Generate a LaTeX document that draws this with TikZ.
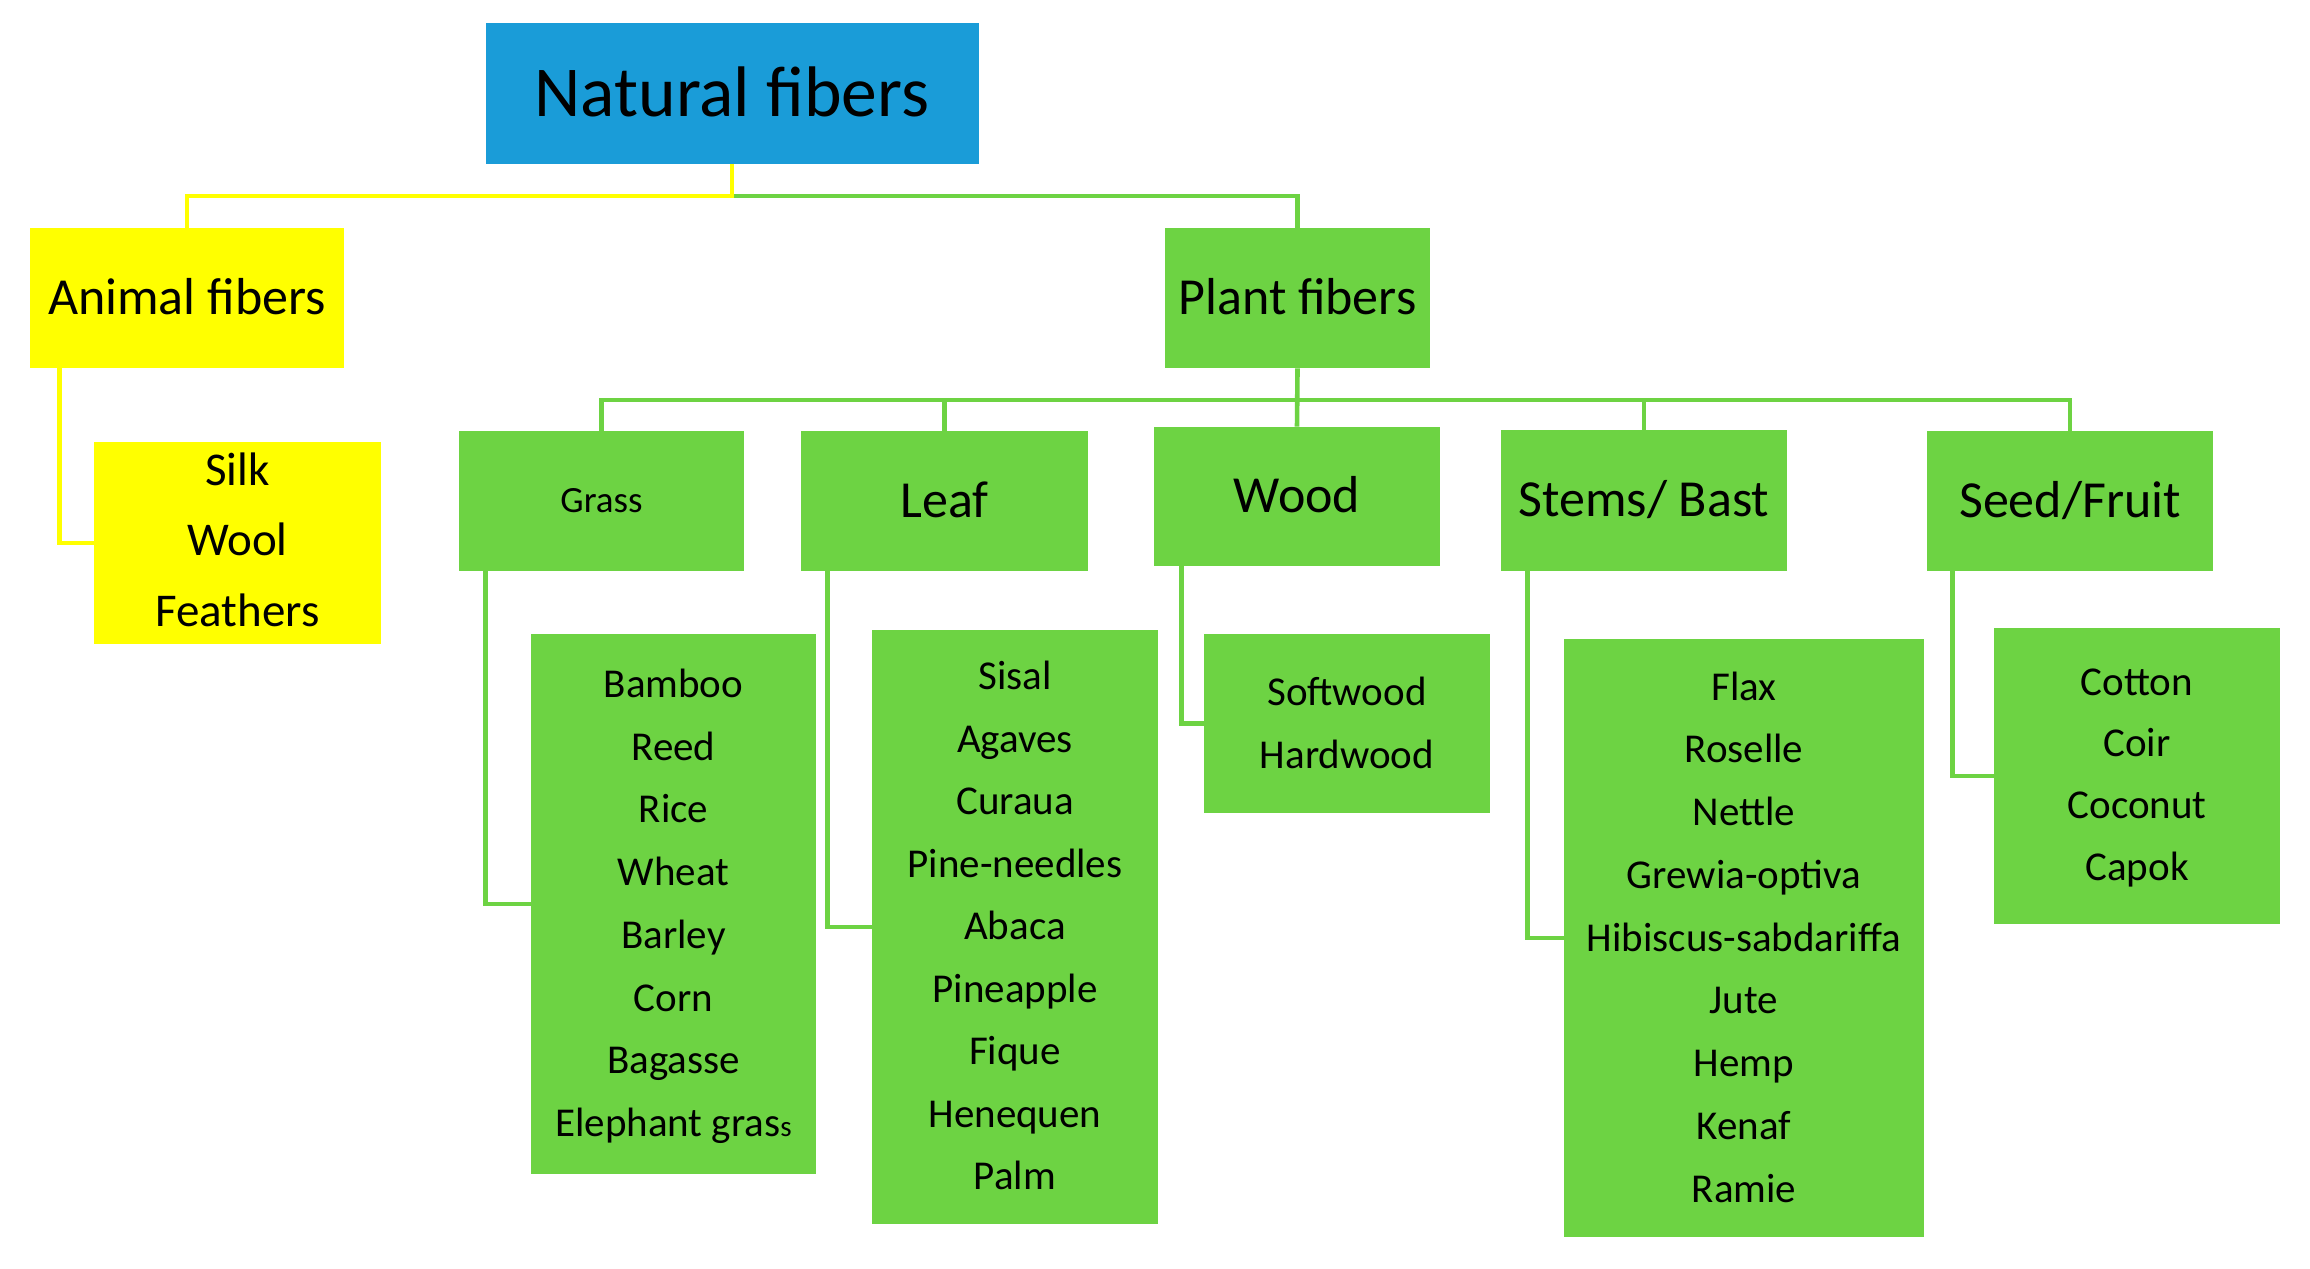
\documentclass[tikz,border=0pt]{standalone}
\usepackage{fontspec}
\setmainfont{Carlito}
\definecolor{natblue}{HTML}{1A9CD8}
\definecolor{grn}{HTML}{6DD343}
\definecolor{ylw}{HTML}{FFFF00}
\begin{document}
\begin{tikzpicture}[x=0.5pt,y=-0.5pt,
  box/.style={rectangle, inner sep=0pt, draw=none, text=black},
  head/.style={box, font=\fontsize{26}{30}\selectfont, text height=16.4pt, text depth=0pt},
  item/.style={anchor=base, inner sep=0pt, text=black, font=\fontsize{20.5}{24}\selectfont},
  aitem/.style={item, font=\fontsize{23.5}{28}\selectfont},
  gline/.style={draw=grn, line width=2.3pt},
  yline/.style={draw=ylw, line width=2.3pt}]
\useasboundingbox (0,0) rectangle (2310,1268);
\fill[white] (0,0) rectangle (2310,1268);

% top level
\node[box, fill=natblue, minimum width=246.5pt, minimum height=70.5pt,
      font=\fontsize{35.8}{41}\selectfont, text height=22.6pt, text depth=0pt] (nat) at (732,93.5) {Natural fibers};
\node[head, fill=ylw, minimum width=157pt, minimum height=70pt] (animal) at (187,298) {Animal fibers};
\node[head, fill=grn, minimum width=132.5pt, minimum height=70pt] (plant) at (1297.5,298) {Plant fibers};

% animal children
\node[box, fill=ylw, minimum width=143.5pt, minimum height=101pt] (ach) at (237.5,543) {};

% plant categories
\node[box, fill=grn, minimum width=142.5pt, minimum height=70pt,
      font=\fontsize{18.5}{22}\selectfont, text height=11.7pt, text depth=0pt] (grass) at (601.5,501) {Grass};
\node[head, fill=grn, minimum width=143.5pt, minimum height=70pt] (leaf) at (944.5,501) {Leaf};
\node[head, fill=grn, minimum width=143pt, minimum height=69.5pt] (wood) at (1297,496.5) {Wood};
\node[head, fill=grn, minimum width=143pt, minimum height=70.5pt] (stems) at (1644,500.5) {Stems/ Bast};
\node[head, fill=grn, minimum width=143pt, minimum height=70pt] (seed) at (2070,501) {Seed/Fruit};

% children boxes
\node[box, fill=grn, minimum width=142.5pt, minimum height=270pt] (gch) at (673.5,904) {};
\node[box, fill=grn, minimum width=143pt, minimum height=297pt] (lch) at (1015,927) {};
\node[box, fill=grn, minimum width=143pt, minimum height=89.5pt] (wch) at (1347,723.5) {};
\node[box, fill=grn, minimum width=180pt, minimum height=299pt] (sch) at (1744,938) {};
\node[box, fill=grn, minimum width=143pt, minimum height=148pt] (fch) at (2137,776) {};

% item texts
\foreach \t [count=\i from 0] in {Silk,Wool,Feathers}
  \node[aitem] (a\i) at (237.5,485+70.8*\i) {\t};
\foreach \t [count=\i from 0] in {Bamboo,Reed,Rice,Wheat,Barley,Corn,Bagasse,{Elephant gras{\fontsize{14.5}{17}\selectfont s}}}
  \node[item] (g\i) at (673.5,697.5+62.7*\i) {\t};
\foreach \t [count=\i from 0] in {Sisal,Agaves,Curaua,Pine-needles,Abaca,Pineapple,Fique,Henequen,Palm}
  \node[item] (l\i) at (1015,689.7+62.5*\i) {\t};
\foreach \t [count=\i from 0] in {Softwood,Hardwood}
  \node[item] (w\i) at (1347,705.4+62.6*\i) {\t};
\foreach \t [count=\i from 0] in {Flax,Roselle,Nettle,Grewia-optiva,Hibiscus-sabdariffa,Jute,Hemp,Kenaf,Ramie}
  \node[item] (s\i) at (1744,700+62.75*\i) {\t};
\foreach \t [count=\i from 0] in {Cotton,Coir,Coconut,Capok}
  \node[item] (f\i) at (2137,695+61.9*\i) {\t};

% connectors: top level
\coordinate (nj) at (732,196);
\draw[gline] (nj) -| (plant.north);
\draw[yline] (nat.south) -- (nj) -| (animal.north);
\draw[yline] ([xshift=15pt]animal.south west) |- (ach.west);

% connectors: plant categories
\coordinate (pj) at (1297,400);
\draw[gline] (plant.south) -- (wood.north);
\draw[gline] (pj) -| (grass.north);
\draw[gline] (pj) -| (leaf.north);
\draw[gline] (pj) -| (stems.north);
\draw[gline] (pj) -| (seed.north);

% connectors: categories to children
\draw[gline] ([xshift=13.5pt]grass.south west) |- (gch.west);
\draw[gline] ([xshift=13.5pt]leaf.south west) |- (lch.west);
\draw[gline] ([xshift=14pt]wood.south west) |- (wch.west);
\draw[gline] ([xshift=13.5pt]stems.south west) |- (sch.west);
\draw[gline] ([xshift=13pt]seed.south west) |- (fch.west);
\end{tikzpicture}
\end{document}
